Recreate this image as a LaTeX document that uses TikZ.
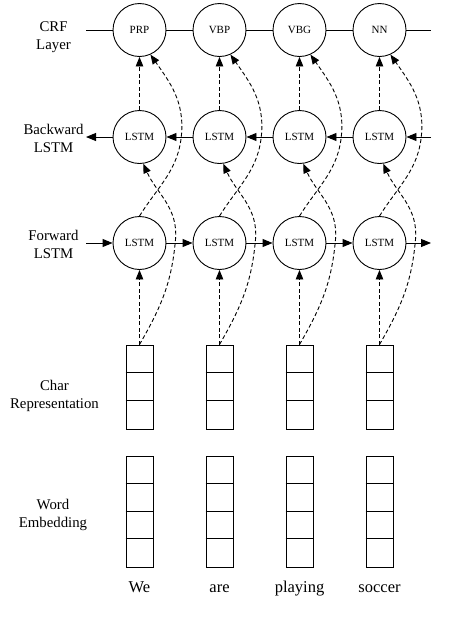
\documentclass[tikz,border=0pt]{standalone}
\usepackage{fontspec}
\setmainfont{Liberation Serif}
\usetikzlibrary{arrows.meta}
\begin{document}
\begin{tikzpicture}[x=1pt,y=1pt,
  line width=0.9pt,
  cell/.style={draw, circle, minimum size=53pt, inner sep=0pt, font=\fontsize{11}{13}\selectfont},
  vecthree/.style={draw, minimum width=27pt, minimum height=84pt, inner sep=0pt},
  vecfour/.style={draw, minimum width=27pt, minimum height=111pt, inner sep=0pt},
  lbl/.style={align=center, font=\fontsize{14.8}{18}\selectfont},
  word/.style={anchor=base, font=\fontsize{16.5}{19}\selectfont},
  arr/.style={-{Triangle[length=10pt,width=8pt]}},
  dsh/.style={dash pattern=on 4pt off 2.5pt, -{Triangle[length=9.5pt,width=7.5pt]}}]
\useasboundingbox (0,0) rectangle (455,-627);

\node[lbl] (lcrf) at (53.5,-37) {CRF\\Layer};
\node[lbl] (lbwd) at (53.5,-138) {Backward\\LSTM};
\node[lbl] (lfwd) at (53.5,-244) {Forward\\LSTM};
\node[lbl] (lchr) at (54.5,-396) {Char\\Representation};
\node[lbl] (lwrd) at (53,-515) {Word\\Embedding};

\foreach \i/\x/\t/\w in {1/139.5/PRP/We, 2/219.5/VBP/are, 3/299.5/VBG/playing, 4/379.5/NN/soccer} {
  \node[cell] (crf\i) at (\x,-30) {\t};
  \node[cell] (bwd\i) at (\x,-137) {LSTM};
  \node[cell] (fwd\i) at (\x,-243) {LSTM};
  \node[vecthree] (ch\i) at (\x,-387) {};
  \node[vecfour] (we\i) at (\x,-511.5) {};
  \node[word] (w\i) at (\x,-592.5) {\w};
  \draw (ch\i.north west) ++(0,-28) -- ++(27,0);
  \draw (ch\i.north west) ++(0,-56) -- ++(27,0);
  \draw (we\i.north west) ++(0,-27.75) -- ++(27,0);
  \draw (we\i.north west) ++(0,-55.5) -- ++(27,0);
  \draw (we\i.north west) ++(0,-83.25) -- ++(27,0);
}

\coordinate (crfL) at (86,-30);
\coordinate (crfR) at (431,-30);
\coordinate (bwdL) at (86,-137);
\coordinate (bwdR) at (431,-137);
\coordinate (fwdL) at (86,-243);
\coordinate (fwdR) at (431,-243);

\draw (crfL) -- (crf1) -- (crf2) -- (crf3) -- (crf4) -- (crfR);

\draw[arr] (bwdR) -- (bwd4);
\draw[arr] (bwd4) -- (bwd3);
\draw[arr] (bwd3) -- (bwd2);
\draw[arr] (bwd2) -- (bwd1);
\draw[arr] (bwd1) -- (bwdL);

\draw[arr] (fwdL) -- (fwd1);
\draw[arr] (fwd1) -- (fwd2);
\draw[arr] (fwd2) -- (fwd3);
\draw[arr] (fwd3) -- (fwd4);
\draw[arr] (fwd4) -- (fwdR);

\foreach \i in {1,...,4} {
  \draw[dsh] (ch\i.north) -- (fwd\i);
  \draw[dsh] (bwd\i) -- (crf\i);
  \draw[dsh] (ch\i.north) to[out=60,in=-95] ++(36,105) to[out=85,in=-66] (bwd\i.-82);
  \draw[dsh] (fwd\i.north) to[out=58,in=-95] ++(42,81.5) to[out=85,in=-55] (crf\i.-66);
}
\end{tikzpicture}
\end{document}
